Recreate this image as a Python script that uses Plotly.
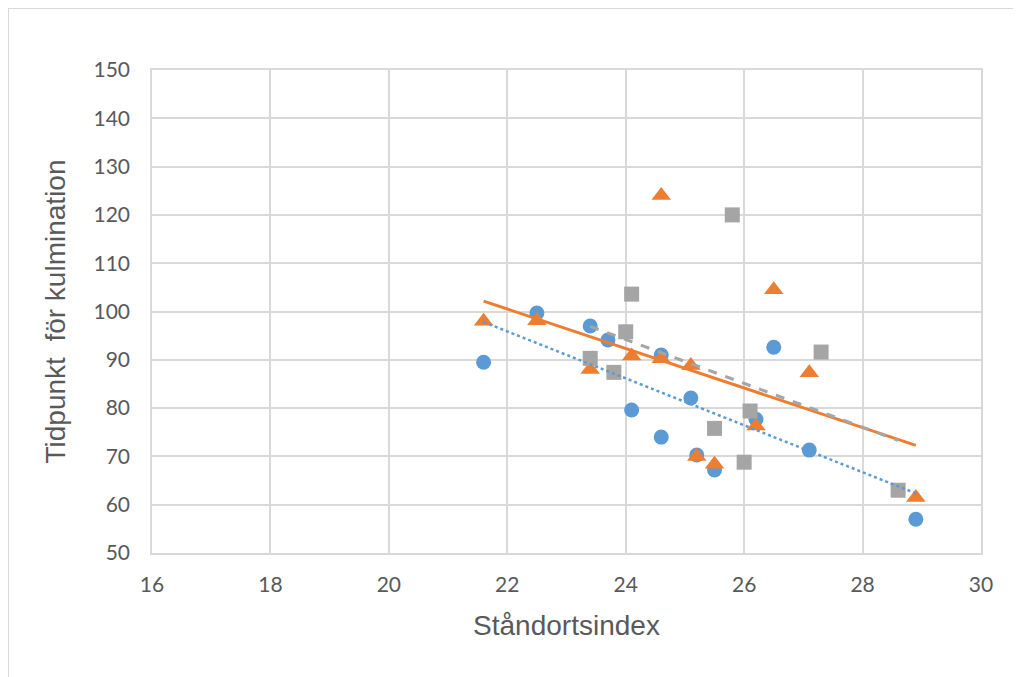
import numpy as np
import plotly.graph_objects as go

# Blue series (circles)
blue_x = [21.6, 22.5, 23.4, 23.7, 24.1, 24.6, 24.6, 25.1, 25.2, 25.5, 26.2, 26.5, 27.1, 28.9]
blue_y = [89.5, 99.7, 97.0, 94.1, 79.6, 91.0, 74.0, 82.1, 70.3, 67.2, 77.7, 92.6, 71.3, 57.0]

# Orange series (triangles)
orange_x = [21.6, 22.5, 23.4, 24.1, 24.6, 24.6, 25.1, 25.2, 25.5, 26.2, 26.5, 27.1, 28.9]
orange_y = [98.0, 98.1, 88.0, 90.8, 90.2, 124.0, 88.8, 70.0, 68.4, 76.3, 104.5, 87.3, 61.5]

# Gray series (squares)
gray_x = [23.4, 23.8, 24.0, 24.1, 25.5, 25.8, 26.0, 26.1, 27.3, 28.6]
gray_y = [90.3, 87.4, 95.8, 103.6, 75.8, 120.0, 68.8, 79.4, 91.6, 63.0]

x_ticks = [16, 18, 20, 22, 24, 26, 28, 30]
y_ticks = [50, 60, 70, 80, 90, 100, 110, 120, 130, 140, 150]

BLUE = "#5B9BD5"
ORANGE = "#ED7D31"
GRAY = "#A5A5A5"
GRID = "#D9D9D9"
TEXT = "#595959"


def trend(xs, ys):
    xs = np.asarray(xs, float)
    ys = np.asarray(ys, float)
    k, m = np.polyfit(xs, ys, 1)
    xe = np.array([xs.min(), xs.max()])
    return xe, k * xe + m


fig = go.Figure()

fig.add_trace(go.Scatter(x=blue_x, y=blue_y, mode="markers",
                         marker=dict(symbol="circle", size=15, color=BLUE), name="blue"))
fig.add_trace(go.Scatter(x=orange_x, y=orange_y, mode="markers",
                         marker=dict(symbol="triangle-up", size=17, color=ORANGE), name="orange"))
fig.add_trace(go.Scatter(x=gray_x, y=gray_y, mode="markers",
                         marker=dict(symbol="square", size=15, color=GRAY), name="gray"))

tx, ty = trend(blue_x, blue_y)
fig.add_trace(go.Scatter(x=tx, y=ty, mode="lines",
                         line=dict(color=BLUE, width=2.5, dash="dot"), hoverinfo="skip"))
tx, ty = trend(orange_x, orange_y)
fig.add_trace(go.Scatter(x=tx, y=ty, mode="lines",
                         line=dict(color=ORANGE, width=3), hoverinfo="skip"))
tx, ty = trend(gray_x, gray_y)
fig.add_trace(go.Scatter(x=tx, y=ty, mode="lines",
                         line=dict(color=GRAY, width=3, dash="dash"), hoverinfo="skip"))

# page body has an 8px margin, so the figure is a bit smaller than the window
W, H = 1013, 669
L, R, T, B = 144, 40, 62, 124

fig.update_layout(
    width=W, height=H,
    margin=dict(l=L, r=R, t=T, b=B),
    paper_bgcolor="white", plot_bgcolor="white",
    showlegend=False,
    font=dict(family="Lato, 'Open Sans', sans-serif", color=TEXT, size=21),
    xaxis=dict(range=[16, 30], tickvals=x_ticks, showgrid=True, gridcolor=GRID,
               gridwidth=1.5, zeroline=False, showline=True, linecolor=GRID, linewidth=1.5,
               mirror=True, ticklabelstandoff=12,
               title=dict(text="Ståndortsindex", standoff=20,
                          font=dict(family="Liberation Sans, Arial, sans-serif", size=28, color=TEXT))),
    yaxis=dict(range=[50, 150], tickvals=y_ticks, showgrid=True, gridcolor=GRID,
               gridwidth=1.5, zeroline=False, showline=True, linecolor=GRID, linewidth=1.5,
               mirror=True, ticklabelstandoff=16,
               title=dict(text="Tidpunkt  för kulmination", standoff=20,
                          font=dict(family="Liberation Sans, Arial, sans-serif", size=28, color=TEXT))),
    shapes=[
        dict(type="line", xref="paper", yref="paper",
             x0=-L / (W - L - R), x1=-L / (W - L - R),
             y0=1 + T / (H - T - B), y1=-B / (H - T - B) - 0.01,
             line=dict(color=GRID, width=2)),
        dict(type="line", xref="paper", yref="paper",
             x0=-L / (W - L - R), x1=1 + R / (W - L - R) + 0.01,
             y0=1 + T / (H - T - B), y1=1 + T / (H - T - B),
             line=dict(color=GRID, width=2)),
    ],
)

fig.write_html("out.html")
